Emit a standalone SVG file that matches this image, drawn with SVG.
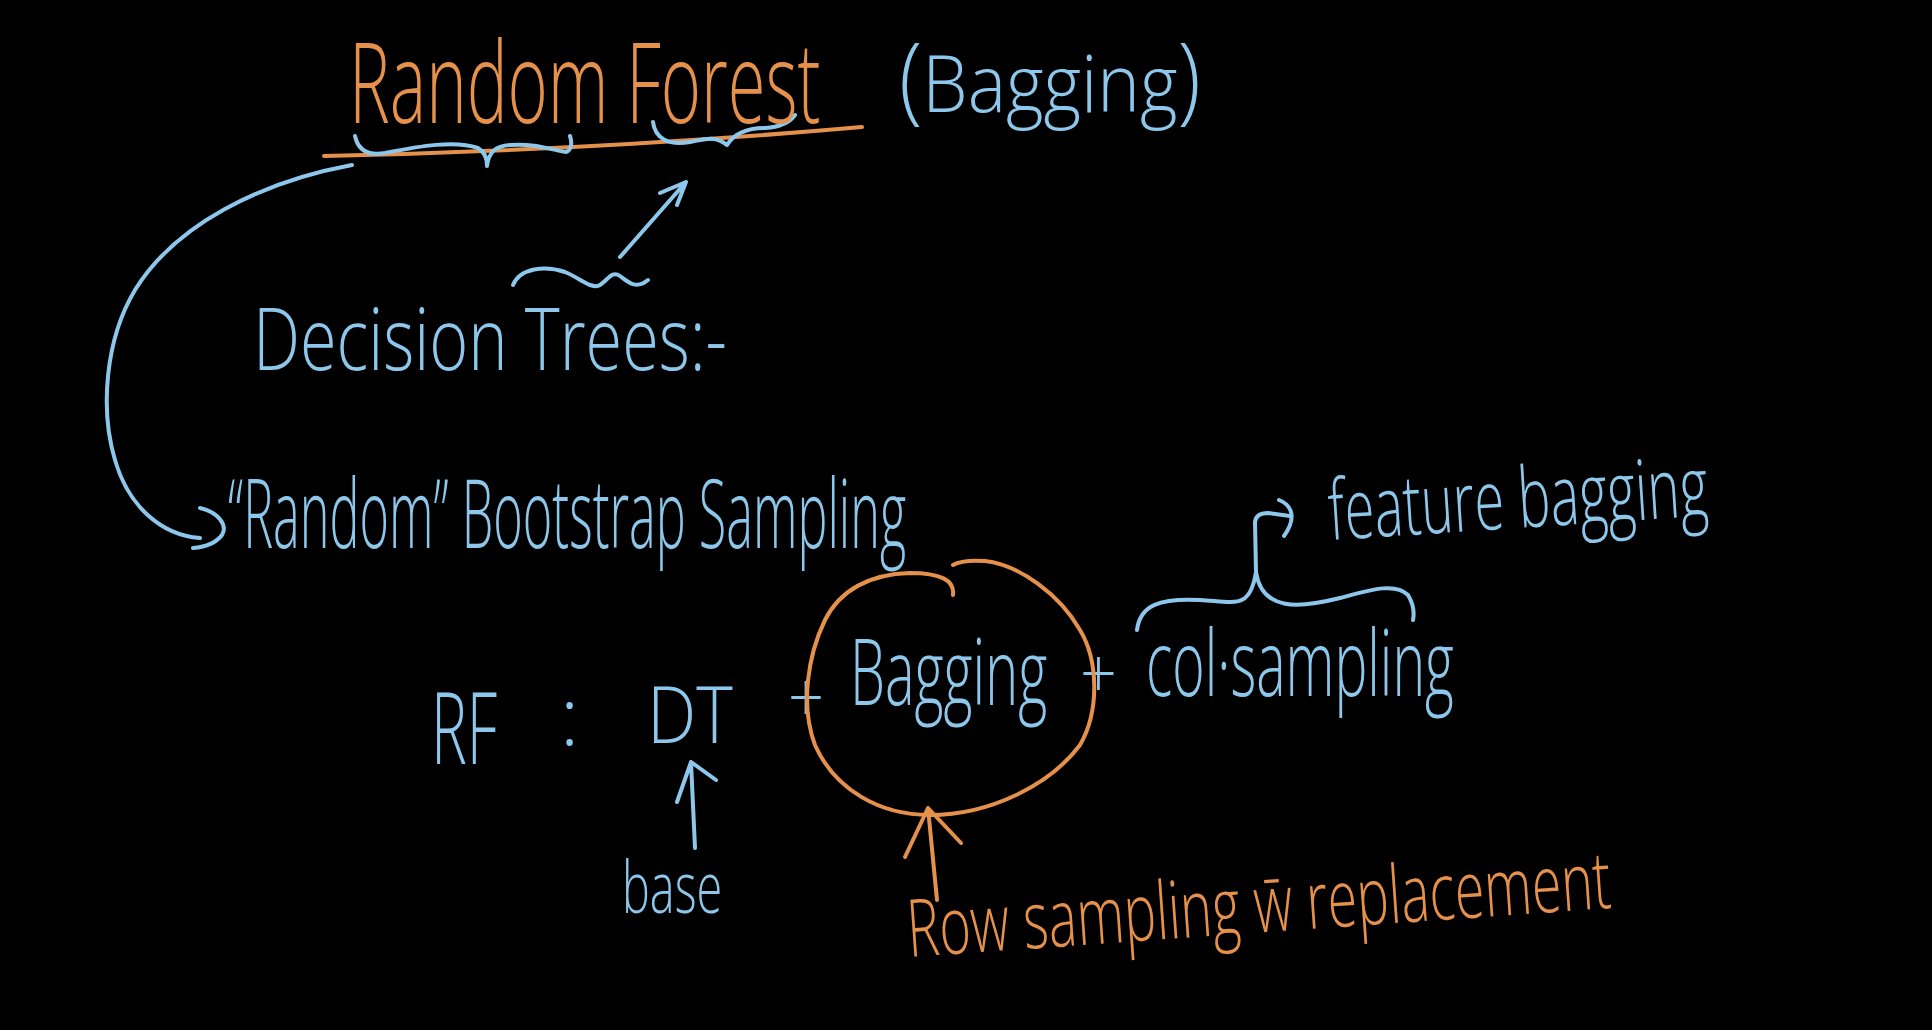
<svg xmlns="http://www.w3.org/2000/svg" width="1932" height="1030" viewBox="0 0 1932 1030">
<style>
.b{fill:none;stroke:#8dc8ec;stroke-width:4;stroke-linecap:round;stroke-linejoin:round}
.o{fill:none;stroke:#e6914b;stroke-width:4;stroke-linecap:round;stroke-linejoin:round}
text{font-family:"Open Sans","Liberation Sans",sans-serif;font-weight:300}
.tb{fill:#8dc8ec}
.to{fill:#e6914b}
</style>
<rect width="1932" height="1030" fill="#000"/>
<g id="connectors">
  <path class="o" d="M324 156 Q600 150 862 127"/>
  <path class="b" d="M355 136 C358 150 368 156 385 153 C420 146 455 140 478 148 C485 152 487 158 487 166 M487 166 C489 152 495 146 510 145 C535 143 552 150 566 152 C572 150 572 142 570 136"/>
  <path class="b" d="M653 122 C655 138 668 146 690 142 C705 139 715 135 727 145 M727 145 C735 132 748 128 765 128 C780 127 790 122 795 115"/>
  <path class="b" d="M513 285 C520 268 545 265 565 272 C580 278 592 290 600 285 C608 280 612 270 620 276 C628 282 636 290 648 280"/>
  <path class="b" d="M620 257 L686 182 M660 193 L686 182 L677 205"/>
  <path class="b" d="M352 165 C260 182 175 225 135 290 C105 340 100 410 115 460 C128 505 160 535 200 538"/>
  <path class="b" d="M200 508 C218 512 228 525 222 535 C216 543 205 547 193 548"/>
  <path class="b" d="M695 848 L691 762 M677 802 L691 762 L716 780"/>
  <path class="o" d="M937 900 L928 808 M905 857 L928 808 L961 843"/>
  <path class="b" d="M1137 630 C1140 605 1160 598 1200 600 C1235 602 1250 610 1256 572 C1262 612 1300 608 1340 598 C1370 590 1395 582 1408 595 C1414 605 1414 615 1413 620"/>
  <path class="b" d="M1256 572 L1255 522 Q1256 513 1268 513 L1290 516"/>
  <path class="b" d="M1279 500 C1292 505 1297 518 1284 536"/>
</g>
<g id="title">
  <text class="to" transform="translate(349 123) scale(0.585 1)" font-size="113" textLength="806" lengthAdjust="spacingAndGlyphs">Random Forest</text>
</g>
<g id="bagging-title">
  <text class="tb" transform="translate(899 112) scale(0.86 1)" font-size="80" textLength="351" lengthAdjust="spacingAndGlyphs"><tspan font-size="95">(</tspan>Bagging<tspan font-size="95">)</tspan></text>
</g>
<g id="decision-trees">
  <text class="tb" transform="translate(253 370) scale(0.75 1)" font-size="86" textLength="632" lengthAdjust="spacingAndGlyphs">Decision Trees:-</text>
</g>
<g id="bootstrap">
  <text class="tb" transform="translate(228 548) scale(0.49 1)" font-size="96" textLength="1384" lengthAdjust="spacingAndGlyphs">“Random” Bootstrap Sampling</text>
</g>
<g id="formula">
  <text class="tb" transform="translate(431 764) scale(0.57 1)" font-size="100" textLength="116" lengthAdjust="spacingAndGlyphs">RF</text>
  <text class="tb" x="560" y="745" font-size="80">:</text>
  <text class="tb" transform="translate(647 743) scale(0.85 1)" font-size="80" textLength="101" lengthAdjust="spacingAndGlyphs">DT</text>
  <text class="tb" transform="translate(788 722) scale(0.9 1)" font-size="70" textLength="40" lengthAdjust="spacingAndGlyphs">+</text>
  <text class="tb" transform="translate(850 705) scale(0.58 1)" font-size="92" textLength="340" lengthAdjust="spacingAndGlyphs">Bagging</text>
  <text class="tb" transform="translate(1080 698) scale(0.9 1)" font-size="70" textLength="41" lengthAdjust="spacingAndGlyphs">+</text>
  <text class="tb" transform="translate(1146 696) scale(0.57 1)" font-size="92" textLength="540" lengthAdjust="spacingAndGlyphs">col·sampling</text>
</g>
<g id="bagging-circle">
  <path class="o" d="M953 595 C955 580 940 573 910 573 C870 574 840 590 825 620 C808 655 800 705 815 745 C835 790 880 815 930 815 C990 815 1050 785 1080 745 C1100 710 1098 660 1080 630 C1060 595 1020 565 985 561 C970 560 958 562 953 565"/>
</g>
<g id="base">
  <text class="tb" transform="translate(622 913) scale(0.63 1)" font-size="72" textLength="159" lengthAdjust="spacingAndGlyphs">base</text>
</g>
<g id="row-sampling">
  <text class="to" transform="translate(909 957) rotate(-4) scale(0.64 1)" font-size="80" textLength="1102" lengthAdjust="spacingAndGlyphs">Row sampling w̄ replacement</text>
</g>
<g id="feature-bagging">
  <text class="tb" transform="translate(1330 540) rotate(-3.7) scale(0.62 1)" font-size="84" textLength="613" lengthAdjust="spacingAndGlyphs">feature bagging</text>
</g>
</svg>
